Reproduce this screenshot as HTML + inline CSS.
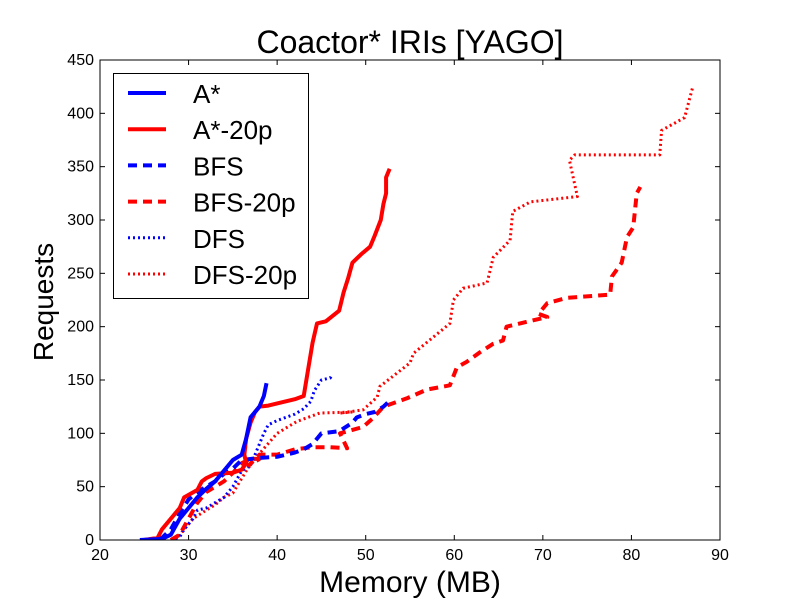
<!DOCTYPE html>
<html><head><meta charset="utf-8"><style>
body{margin:0;background:#fff;}
svg{display:block;font-family:"Liberation Sans","DejaVu Sans",sans-serif;}
</style></head><body>
<svg id="chart" width="800" height="600"></svg>
<script>
const xTicks=[20,30,40,50,60,70,80,90];
const yTicks=[0,50,100,150,200,250,300,350,400,450];
const seriesNames=["A*","A*-20p","BFS","BFS-20p","DFS","DFS-20p"];
const astarX=[24.5,27,28,29,30,31,32,33,34,35,36,36.5,37,38,38.5,38.8];
const astarY=[0,1,5,20,30,40,48,55,65,75,80,95,115,125,135,147];
const astar20X=[25,26.5,27,28,29,29.5,31,31.5,32,33,35,36,36.5,36.3,36.5,37,37.5,38,39,40,42,43,43.5,44,44.5,45.5,47,47.5,48,48.5,49.5,50.5,51,51.7,52,52.3,52.3,52.7];
const astar20Y=[0,2,10,20,30,40,47,55,58,62,63,66,72,80,95,110,120,125,126,128,132,135,160,185,203,205,215,232,245,260,268,275,285,300,315,325,340,348];
const bfsX=[25,27,28,29,30,31,32,33,34,35,36,38,40,42,43,44,45,47,48.5,49,50,51,52,52.9];
const bfsY=[0,2,10,25,38,45,50,55,62,67,75,77,78,82,85,90,100,102,110,115,118,120,125,132];
const bfs20X=[28,29,30,31,32,33,34,35,36,37,38,36.8,38,40,42,44,46,47.9,47.1,49.7,50.8,52,54.7,56.9,59.5,60.3,61.4,62.9,64.4,65.5,65.9,68.9,70.5,69.5,70.5,72.7,77.6,77.8,78.9,79.5,80.2,80.6,81];
const bfs20Y=[0,5,20,35,45,50,55,63,72,76,76,70,80,80,85,87,87,86,100,106,114,125,133,141,145,162,167,176,184,187,200,206,209,212,222,227,230,247,260,284,293,325,331];
const dfsX=[28,29,29.5,30.5,31,32,33,34,35,36,37,37.5,38,38.5,39,40,42,43,43.8,44.2,45,46,46.2];
const dfsY=[0,3,10,20,28,30,35,40,50,65,70,80,90,100,108,112,118,123,130,140,150,152,155];
const dfs20X=[28.5,29.5,30.5,32,33,34,35,36.6,38.1,40,42.2,44.8,48.5,47.1,49.7,51.3,51.6,55,55.4,59.5,59.9,61,63.7,64.4,66.3,66.6,68.6,73.9,73,73.6,83.2,83.4,86,86.9];
const dfs20Y=[0,10,20,28,33,40,44,66,82,100,111,119,120,119,122,134,144,166,175,203,225,236,241,265,281,308,317,322,356,361,361,384,396,424];

const L=100,R=720,T=60,B=540;
const sx=v=>L+(v-20)/70*(R-L);
const sy=v=>B-v/450*(B-T);
const svg=document.getElementById('chart');
const NS="http://www.w3.org/2000/svg";
function mk(tag,attrs,parent){const e=document.createElementNS(NS,tag);for(const k in attrs)e.setAttribute(k,attrs[k]);(parent||svg).appendChild(e);return e;}

const styles=[
 {c:"#0000ff",w:4,d:""},{c:"#ff0000",w:4,d:""},
 {c:"#0000ff",w:4,d:"9 6"},{c:"#ff0000",w:4,d:"9 6"},
 {c:"#0000ff",w:3,d:"2 3"},{c:"#ff0000",w:3,d:"2 3"}];
const data=[[astarX,astarY],[astar20X,astar20Y],[bfsX,bfsY],[bfs20X,bfs20Y],[dfsX,dfsY],[dfs20X,dfs20Y]];
const names=["line-astar","line-astar-20p","line-bfs","line-bfs-20p","line-dfs","line-dfs-20p"];

const clip=mk('clipPath',{id:'pc'});mk('rect',{x:L,y:T,width:R-L,height:B-T},clip);
const g=mk('g',{'clip-path':'url(#pc)'});
[5,4,3,2,1,0].forEach(i=>{
 const [xs,ys]=data[i];
 const p=mk('polyline',{points:xs.map((x,j)=>sx(x)+','+sy(ys[j])).join(' '),fill:'none',stroke:styles[i].c,'stroke-width':styles[i].w,'stroke-dasharray':styles[i].d,'stroke-linejoin':'round'},g);
 
 
});

const frame=mk('rect',{x:L,y:T,width:R-L,height:B-T,fill:'none',stroke:'#000','stroke-width':1});



xTicks.forEach(v=>{
 const x=sx(v);
 mk('line',{x1:x,y1:B,x2:x,y2:B-5,stroke:'#000'});
 mk('line',{x1:x,y1:T,x2:x,y2:T+5,stroke:'#000'});
 const t=mk('text',{x:x,y:B+20,'text-anchor':'middle','font-size':16});
 t.textContent=v;
 
 
});
yTicks.forEach(v=>{
 const y=sy(v);
 mk('line',{x1:L,y1:y,x2:L+5,y2:y,stroke:'#000'});
 mk('line',{x1:R,y1:y,x2:R-5,y2:y,stroke:'#000'});
 const t=mk('text',{x:L-6,y:y+5,'text-anchor':'end','font-size':16});
 t.textContent=v;
 
 
});

const title=mk('text',{x:410,y:53,'text-anchor':'middle','font-size':32});
title.textContent="Coactor* IRIs [YAGO]";


const xl=mk('text',{x:410,y:592,'text-anchor':'middle','font-size':30});
xl.textContent="Memory (MB)";


const yl=mk('text',{x:53,y:302,'text-anchor':'middle','font-size':28,transform:'rotate(-90 53 302)'});
yl.textContent="Requests";



const lg=mk('g',{});


mk('rect',{x:113.5,y:73.5,width:195,height:225,fill:'#fff',stroke:'#000','stroke-width':1},lg);
seriesNames.forEach((n,i)=>{
 const y=93+i*36.2;
 const e=mk('g',{},lg);
 
 
 mk('line',{x1:128,y1:y,x2:166,y2:y,stroke:styles[i].c,'stroke-width':styles[i].w,'stroke-dasharray':styles[i].d},e);
 const t=mk('text',{x:193,y:y+10,'font-size':26},e);
 t.textContent=n;
});
</script>
</body></html>
